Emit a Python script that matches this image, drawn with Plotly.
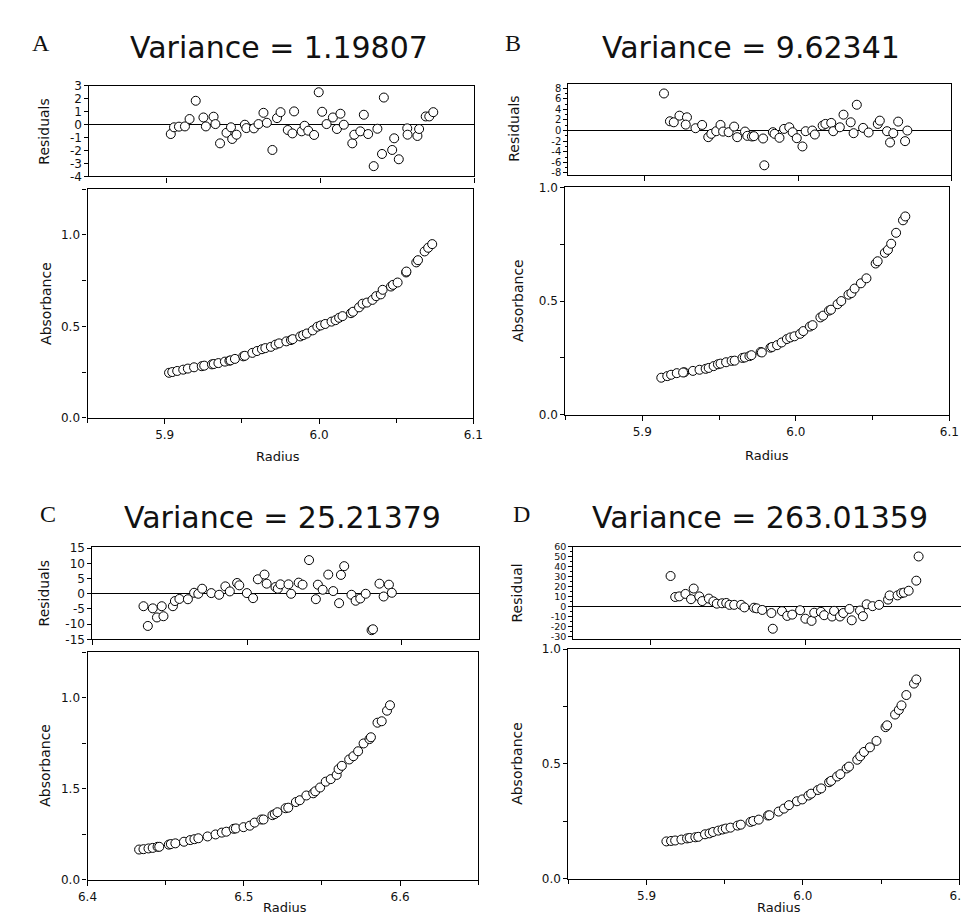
import plotly.graph_objects as go

W, H = 969, 915

# ---------------- data ----------------
radius_a = [5.9028, 5.9049, 5.9081, 5.9120, 5.9150, 5.9190, 5.9240, 5.9256, 5.9306, 5.9318,
            5.9348, 5.9390, 5.9419, 5.9427, 5.9455, 5.9509, 5.9519, 5.9568, 5.9598, 5.9630,
            5.9652, 5.9688, 5.9718, 5.9741, 5.9788, 5.9818, 5.9829, 5.9878, 5.9897, 5.9921,
            5.9959, 5.9989, 6.0011, 6.0040, 6.0081, 6.0107, 6.0130, 6.0152, 6.0207, 6.0220,
            6.0259, 6.0282, 6.0310, 6.0346, 6.0370, 6.0400, 6.0412, 6.0466, 6.0479, 6.0509,
            6.0564, 6.0566, 6.0630, 6.0641, 6.0684, 6.0707, 6.0733]
resid_a = [-0.72, -0.20, -0.15, -0.13, 0.44, 1.85, 0.56, -0.13, 0.62, 0.05,
           -1.44, -0.62, -0.20, -1.10, -0.77, 0.00, -0.26, -0.28, 0.05, 0.92,
           0.15, -1.95, 0.51, 0.97, -0.41, -0.67, 1.03, -0.51, -0.08, -0.46,
           -0.79, 2.51, 1.00, 0.05, 0.56, -0.33, 0.85, 0.00, -1.44, -0.77,
           -0.51, 0.77, -0.72, -3.20, -0.31, -2.26, 2.10, -1.95, -1.05, -2.67,
           -0.28, -0.77, -0.87, -0.33, 0.64, 0.64, 0.97]
absorb_a = [0.246, 0.250, 0.256, 0.263, 0.269, 0.276, 0.282, 0.285, 0.292, 0.294,
            0.299, 0.307, 0.312, 0.314, 0.322, 0.336, 0.339, 0.355, 0.365, 0.375,
            0.381, 0.388, 0.400, 0.407, 0.418, 0.425, 0.430, 0.445, 0.452, 0.461,
            0.478, 0.498, 0.505, 0.513, 0.526, 0.534, 0.547, 0.556, 0.572, 0.580,
            0.604, 0.624, 0.630, 0.645, 0.665, 0.675, 0.700, 0.718, 0.727, 0.740,
            0.795, 0.800, 0.850, 0.862, 0.910, 0.930, 0.950]

radius_b = [5.9124, 5.9163, 5.9188, 5.9225, 5.9274, 5.9266, 5.9330, 5.9373, 5.9413, 5.9433,
            5.9465, 5.9493, 5.9510, 5.9546, 5.9582, 5.9602, 5.9653, 5.9668, 5.9698, 5.9711,
            5.9771, 5.9779, 5.9835, 5.9846, 5.9878, 5.9908, 5.9942, 5.9964, 5.9991, 6.0028,
            6.0049, 6.0092, 6.0109, 6.0160, 6.0178, 6.0216, 6.0229, 6.0272, 6.0296, 6.0343,
            6.0362, 6.0383, 6.0424, 6.0460, 6.0520, 6.0533, 6.0580, 6.0600, 6.0621, 6.0653,
            6.0698, 6.0713]
resid_b = [7.00, 1.75, 1.56, 2.81, 2.50, 1.12, 0.44, 1.06, -1.25, -0.62,
           -0.12, 1.06, -0.19, -0.31, 0.75, -1.25, -0.19, -1.00, -1.12, -1.06,
           -1.50, -6.56, -0.31, -0.62, -1.37, 0.31, 0.62, -0.31, -1.44, -3.00,
           -0.12, 0.00, -0.75, 0.94, 1.25, 1.44, -0.12, 0.62, 3.00, 1.56,
           -0.50, 4.87, 0.50, -0.37, 1.25, 1.87, -0.12, -2.25, -0.50, 1.69,
           -2.00, 0.00]
absorb_b = [0.163, 0.170, 0.176, 0.183, 0.187, 0.186, 0.193, 0.198, 0.202, 0.206,
            0.214, 0.222, 0.225, 0.231, 0.237, 0.238, 0.250, 0.252, 0.258, 0.262,
            0.276, 0.274, 0.295, 0.298, 0.306, 0.318, 0.333, 0.340, 0.345, 0.356,
            0.368, 0.388, 0.394, 0.428, 0.436, 0.458, 0.462, 0.486, 0.500, 0.528,
            0.535, 0.555, 0.578, 0.600, 0.665, 0.675, 0.712, 0.725, 0.752, 0.800,
            0.855, 0.872]

radius_c = [6.4330, 6.4358, 6.4390, 6.4417, 6.4448, 6.4459, 6.4520, 6.4533, 6.4562, 6.4617,
            6.4657, 6.4684, 6.4709, 6.4768, 6.4819, 6.4859, 6.4888, 6.4935, 6.4949, 6.4998,
            6.5038, 6.5069, 6.5112, 6.5126, 6.5183, 6.5198, 6.5215, 6.5267, 6.5284, 6.5333,
            6.5358, 6.5400, 6.5444, 6.5457, 6.5488, 6.5524, 6.5556, 6.5594, 6.5606, 6.5627,
            6.5674, 6.5701, 6.5731, 6.5766, 6.5804, 6.5813, 6.5855, 6.5882, 6.5916, 6.5935]
resid_c = [-4.1, -10.6, -4.8, -7.8, -4.1, -7.4, -4.1, -2.4, -1.7, -1.8,
           0.33, 0.0, 1.67, 0.22, -0.33, 2.44, 0.78, 3.56, 2.78, 0.22,
           -1.44, 4.78, 6.33, 3.33, 2.22, 1.67, 3.11, 3.11, 0.0, 3.67,
           3.0, 11.1, -1.78, 3.0, 1.33, 6.33, 0.89, -3.1, 6.22, 9.1,
           -0.33, -2.3, -1.56, 0.0, -12.0, -11.7, 3.33, -0.9, 3.0, 0.33]
absorb_c = [0.165, 0.167, 0.171, 0.174, 0.180, 0.180, 0.192, 0.195, 0.199, 0.208,
            0.217, 0.222, 0.227, 0.237, 0.248, 0.258, 0.263, 0.279, 0.281, 0.288,
            0.296, 0.313, 0.330, 0.330, 0.354, 0.360, 0.370, 0.392, 0.395, 0.426,
            0.436, 0.462, 0.474, 0.485, 0.506, 0.538, 0.552, 0.575, 0.607, 0.625,
            0.660, 0.678, 0.705, 0.748, 0.772, 0.782, 0.862, 0.870, 0.928, 0.958]

radius_d = [5.9127, 5.9157, 5.9183, 5.9223, 5.9259, 5.9276, 5.9312, 5.9331, 5.9374, 5.9403,
            5.9425, 5.9459, 5.9486, 5.9507, 5.9537, 5.9582, 5.9603, 5.9665, 5.9682, 5.9718,
            5.9777, 5.9786, 5.9845, 5.9879, 5.9911, 5.9962, 5.9996, 6.0036, 6.0053, 6.0096,
            6.0117, 6.0168, 6.0181, 6.0219, 6.0240, 6.0280, 6.0295, 6.0348, 6.0367, 6.0391,
            6.0429, 6.0471, 6.0529, 6.0539, 6.0590, 6.0614, 6.0631, 6.0662, 6.0711, 6.0726]
resid_d = [30.6, 9.5, 10.1, 12.6, 7.3, 18.0, 10.1, 5.4, 7.9, 5.1,
           2.8, 3.2, 3.5, 1.6, 1.6, 1.6, -0.95, -1.26, -1.9, -3.5,
           -6.6, -22.4, -4.7, -9.5, -8.2, -3.8, -12.3, -14.5, -6.3, -5.4,
           -8.8, -10.1, -4.4, -10.1, -6.6, -2.5, -13.9, -4.1, -9.8, 2.2,
           0.3, 1.6, 6.9, 11.1, 11.1, 13.3, 13.9, 15.8, 25.9, 50.2]
absorb_d = [0.162, 0.164, 0.166, 0.170, 0.175, 0.177, 0.180, 0.182, 0.193, 0.197,
            0.203, 0.209, 0.214, 0.218, 0.222, 0.231, 0.235, 0.247, 0.251, 0.257,
            0.275, 0.276, 0.292, 0.305, 0.320, 0.337, 0.345, 0.362, 0.370, 0.386,
            0.393, 0.420, 0.426, 0.445, 0.455, 0.480, 0.488, 0.518, 0.533, 0.552,
            0.572, 0.600, 0.660, 0.668, 0.715, 0.735, 0.755, 0.800, 0.850, 0.868]

panel_letters = ["A", "B", "C", "D"]
variance_titles = ["Variance = 1.19807", "Variance = 9.62341",
                   "Variance = 25.21379", "Variance = 263.01359"]
resid_titles = ["Residuals", "Residuals", "Residuals", "Residual"]

abs_ticktext_std = ["0.0", "0.5", "1.0"]
abs_ticktext_c = ["0.0", "1.5", "1.0"]   # as printed in the original panel C

# ---------------- layout helpers ----------------
FONT = "DejaVu Sans"
BLACK = "#111111"


def dom_x(x0, x1):
    return [x0 / W, x1 / W]


def dom_y(y0, y1):
    return [1 - y1 / H, 1 - y0 / H]


panels = [
    dict(r=radius_a, res=resid_a, ab=absorb_a,
         res_box=(73, 466, 72, 164), abs_box=(71, 465, 177, 409),
         xr=[5.85, 6.1], ab_range=[0, 1.25],
         res_range=[-4, 3], res_ticks=list(range(-4, 4)), res_minor=None, res_font=12,
         x_ticks=[5.9, 6.0, 6.1], x_text=["5.9", "6.0", "6.1"], ab_text=abs_ticktext_std,
         letter_pos=(23, 28), title_pos=(266, 33), res_lab=(27, 118), abs_lab=(28, 293),
         rad_pos=(265, 448)),
    dict(r=radius_b, res=resid_b, ab=absorb_b,
         res_box=(562, 953, 70, 162), abs_box=(559, 951, 175, 406),
         xr=[5.85, 6.1], ab_range=[0, 1.0],
         res_range=[-8.3, 8.8], res_ticks=list(range(-8, 9, 2)), res_minor=1, res_font=10,
         x_ticks=[5.9, 6.0, 6.1], x_text=["5.9", "6.0", "6.1"], ab_text=abs_ticktext_std,
         letter_pos=(505, 28), title_pos=(748, 33), res_lab=(507, 116), abs_lab=(510, 290),
         rad_pos=(765, 447)),
    dict(r=radius_c, res=resid_c, ab=absorb_c,
         res_box=(76, 471, 540, 634), abs_box=(71, 470, 647, 878),
         xr=[6.4, 6.65], ab_range=[0, 1.25],
         res_range=[-15, 15.5], res_ticks=list(range(-15, 16, 5)), res_minor=None, res_font=12,
         x_ticks=[6.4, 6.5, 6.6], x_text=["6.4", "6.5", "6.6"], ab_text=abs_ticktext_c,
         letter_pos=(31, 507), title_pos=(270, 510), res_lab=(27, 587), abs_lab=(28, 762),
         rad_pos=(273, 906)),
    dict(r=radius_d, res=resid_d, ab=absorb_d,
         res_box=(567, 963, 540, 634), abs_box=(562, 961, 644, 877),
         xr=[5.85, 6.1], ab_range=[0, 1.0],
         res_range=[-33, 60], res_ticks=list(range(-30, 61, 10)), res_minor=5, res_font=9.5,
         x_ticks=[5.9, 6.0, 6.1], x_text=["5.9", "6.0", "6.1"], ab_text=abs_ticktext_std,
         letter_pos=(514, 507), title_pos=(758, 510), res_lab=(510, 587), abs_lab=(510, 760),
         rad_pos=(777, 906)),
]

fig = go.Figure()
layout = dict(
    width=W, height=H,
    margin=dict(l=0, r=0, t=0, b=0),
    paper_bgcolor="white", plot_bgcolor="white",
    showlegend=False,
    font=dict(family=FONT, color=BLACK),
)
annotations = []

marker = dict(symbol="circle", size=9, color="white", line=dict(color="black", width=1))

axis_common = dict(showgrid=False, showline=True, linecolor="black", linewidth=1.2,
                   mirror=True, ticks="outside", tickcolor="black", tickwidth=1,
                   zeroline=False, fixedrange=True)

n = 1
for p in panels:
    # residual subplot
    xi, yi = n, n
    xa = "xaxis" if xi == 1 else f"xaxis{xi}"
    ya = "yaxis" if yi == 1 else f"yaxis{yi}"
    x0, x1, y0, y1 = p["res_box"]
    fig.add_trace(go.Scatter(x=p["r"], y=p["res"], mode="markers", marker=marker,
                             xaxis=f"x{xi}" if xi > 1 else "x",
                             yaxis=f"y{yi}" if yi > 1 else "y",
                             cliponaxis=False, hoverinfo="skip"))
    layout[xa] = dict(axis_common, domain=dom_x(x0, x1), range=p["xr"], anchor=f"y{yi}" if yi > 1 else "y",
                      tickvals=p["x_ticks"], showticklabels=False, ticklen=5)
    yd = dict(axis_common, domain=dom_y(y0, y1), range=p["res_range"],
              anchor=f"x{xi}" if xi > 1 else "x",
              tickvals=p["res_ticks"], ticktext=[str(v) for v in p["res_ticks"]],
              tickfont=dict(size=p["res_font"], family=FONT, color=BLACK), ticklen=4,
              zeroline=True, zerolinecolor="black", zerolinewidth=1.2)
    if p["res_minor"]:
        yd["minor"] = dict(dtick=p["res_minor"], ticklen=2, tickcolor="black", ticks="outside")
        yd["ticklabelstandoff"] = 0
    layout[ya] = yd

    # absorbance subplot
    n += 1
    xi, yi = n, n
    x0, x1, y0, y1 = p["abs_box"]
    fig.add_trace(go.Scatter(x=p["r"], y=p["ab"], mode="markers", marker=marker,
                             xaxis=f"x{xi}", yaxis=f"y{yi}", hoverinfo="skip"))
    layout[f"xaxis{xi}"] = dict(axis_common, domain=dom_x(x0, x1), range=p["xr"], anchor=f"y{yi}",
                                tickvals=p["x_ticks"], ticktext=p["x_text"], ticklen=5,
                                tickfont=dict(size=12, family=FONT, color=BLACK),
                                minor=dict(dtick=0.05, tick0=p["xr"][0], ticklen=4, tickcolor="black",
                                           ticks="outside"),
                                ticklabelstandoff=1)
    layout[f"yaxis{yi}"] = dict(axis_common, domain=dom_y(y0, y1), range=p["ab_range"], anchor=f"x{xi}",
                                tickvals=[0, 0.5, 1.0], ticktext=p["ab_text"], ticklen=4,
                                tickfont=dict(size=12, family=FONT, color=BLACK),
                                minor=dict(dtick=0.25, tick0=0, ticklen=4, tickcolor="black",
                                           ticks="outside"))
    n += 1

for i, p in enumerate(panels):
    lx, ly = p["letter_pos"]
    annotations.append(dict(text=panel_letters[i], x=lx / W, y=1 - ly / H, xref="paper", yref="paper",
                            showarrow=False, xanchor="center", yanchor="middle",
                            font=dict(family="Liberation Serif", size=24, color=BLACK)))
    tx, ty = p["title_pos"]
    annotations.append(dict(text=variance_titles[i], x=tx / W, y=1 - ty / H, xref="paper", yref="paper",
                            showarrow=False, xanchor="center", yanchor="middle",
                            font=dict(family=FONT, size=30, color=BLACK)))
    rx, ry = p["res_lab"]
    annotations.append(dict(text=resid_titles[i], x=rx / W, y=1 - ry / H, xref="paper", yref="paper",
                            showarrow=False, xanchor="center", yanchor="middle", textangle=-90,
                            font=dict(family=FONT, size=14, color=BLACK)))
    ax_, ay_ = p["abs_lab"]
    annotations.append(dict(text="Absorbance", x=ax_ / W, y=1 - ay_ / H, xref="paper", yref="paper",
                            showarrow=False, xanchor="center", yanchor="middle", textangle=-90,
                            font=dict(family=FONT, size=14, color=BLACK)))
    dx, dy = p["rad_pos"]
    annotations.append(dict(text="Radius", x=dx / W, y=1 - dy / H, xref="paper", yref="paper",
                            showarrow=False, xanchor="center", yanchor="middle",
                            font=dict(family=FONT, size=13, color=BLACK)))

layout["annotations"] = annotations
fig.update_layout(**layout)
fig.write_html("out.html")
